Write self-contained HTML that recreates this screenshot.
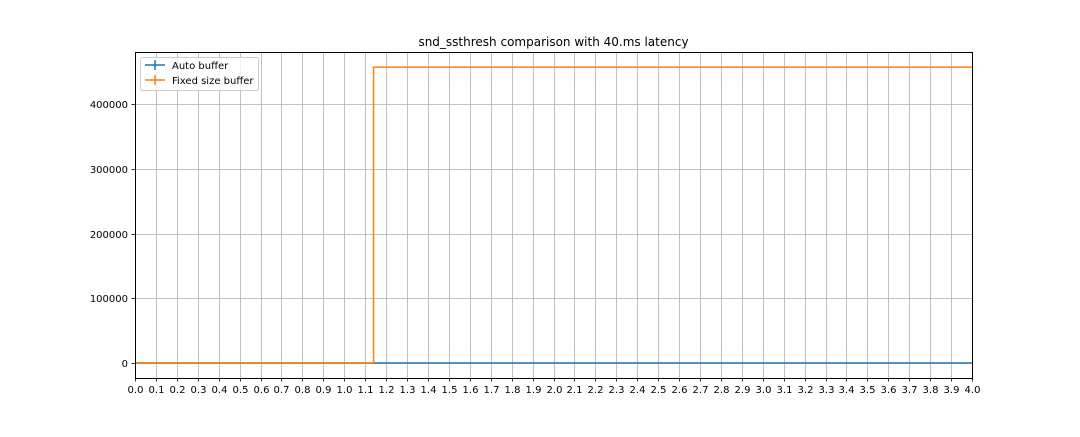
<!DOCTYPE html>
<html><head><meta charset="utf-8"><style>
body{margin:0;background:#fff;width:1080px;height:432px;overflow:hidden}
svg{font-family:"DejaVu Sans","Liberation Sans",sans-serif}
</style></head><body>
<svg id="chart" width="1080" height="432">
<text x="553.5" y="46" font-size="12" text-anchor="middle">snd_ssthresh comparison with 40.ms latency</text>
<g id="grid"></g>
<g id="ticks"></g>
<g id="series"></g>
<rect x="135.5" y="52.5" width="837" height="326" fill="none" stroke="#000" stroke-width="1"/>
<g>
<rect x="140.5" y="57.5" width="118" height="33" rx="2" fill="#fff" fill-opacity="0.8" stroke="#ccc"/>
<g><line x1="145" y1="65" x2="165" y2="65" stroke="#1f77b4" stroke-width="1.5"/><line x1="155" y1="60" x2="155" y2="70" stroke="#1f77b4" stroke-width="1.5"/><text x="172" y="69" font-size="10">Auto buffer</text></g>
<g><line x1="145" y1="80" x2="165" y2="80" stroke="#ff7f0e" stroke-width="1.5"/><line x1="155" y1="75" x2="155" y2="85" stroke="#ff7f0e" stroke-width="1.5"/><text x="172" y="84" font-size="10">Fixed size buffer</text></g>
</g>
</svg>
<script>
const autoX=[0,4.0];
const autoY=[0,0];
const fixedX=[0,1.14,1.14,4.0];
const fixedY=[0,0,457000,457000];
const yTicks=[0,100000,200000,300000,400000];
const xTickCount=41;
const NS="http://www.w3.org/2000/svg";
const sx=v=>135+v/4*837;
const sy=v=>363-v/100000*64.75;
function mk(t,a,p){const e=document.createElementNS(NS,t);for(const k in a)e.setAttribute(k,a[k]);p.appendChild(e);return e;}
const grid=document.getElementById('grid'),ticks=document.getElementById('ticks'),series=document.getElementById('series');
for(let i=0;i<xTickCount;i++){const v=i/10,x=Math.round(sx(v))+0.5;
 const g=mk('line',{x1:x,x2:x,y1:52,y2:378,stroke:'#b0b0b0','stroke-width':0.8},grid);
 
 mk('line',{x1:x,x2:x,y1:378,y2:381.5,stroke:'#000','stroke-width':0.8},ticks);
 const t=mk('text',{x:x,y:393,'font-size':10,'text-anchor':'middle'},ticks);t.textContent=v.toFixed(1);
 }
yTicks.forEach(v=>{const y=Math.round(sy(v))+0.5;
 const g=mk('line',{x1:135,x2:972,y1:y,y2:y,stroke:'#b0b0b0','stroke-width':0.8},grid);
 
 mk('line',{x1:131.5,x2:135,y1:y,y2:y,stroke:'#000','stroke-width':0.8},ticks);
 const t=mk('text',{x:128,y:y+3.5,'font-size':10,'text-anchor':'end'},ticks);t.textContent=v;
 });
function line(xs,ys,c,n){const p=mk('polyline',{points:xs.map((x,i)=>sx(x)+','+sy(ys[i])).join(' '),fill:'none',stroke:c,'stroke-width':1.5},series);
 }
line(autoX,autoY,'#1f77b4','auto-buffer-line');
line(fixedX,fixedY,'#ff7f0e','fixed-buffer-line');
</script>
</body></html>
